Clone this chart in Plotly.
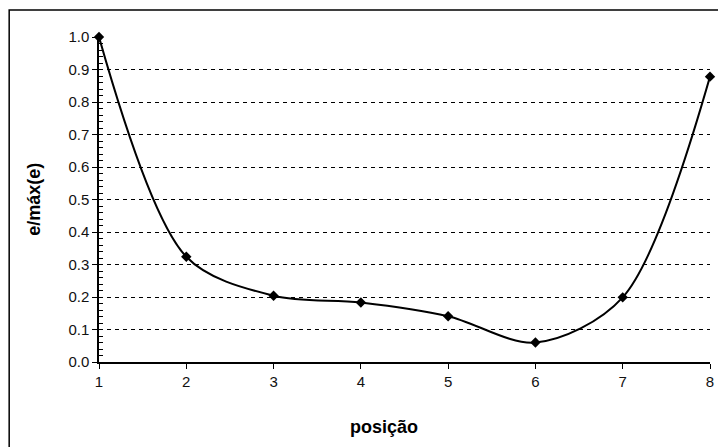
import plotly.graph_objects as go

posicao = [1, 2, 3, 4, 5, 6, 7, 8]
e_rel = [1.0, 0.324, 0.204, 0.183, 0.141, 0.060, 0.199, 0.878]
y_ticks = [0.0, 0.1, 0.2, 0.3, 0.4, 0.5, 0.6, 0.7, 0.8, 0.9, 1.0]

fig = go.Figure()
fig.add_trace(go.Scatter(
    x=posicao, y=e_rel, mode="lines+markers",
    line=dict(color="black", width=2, shape="spline", smoothing=0.9),
    marker=dict(symbol="diamond", size=8, color="black"),
    showlegend=False, cliponaxis=False,
))

fig.update_layout(
    width=718, height=439,
    margin=dict(l=91, r=13, t=29, b=85),
    paper_bgcolor="white", plot_bgcolor="white",
    font=dict(family="Liberation Sans, Arial, sans-serif", size=15, color="#111"),
    xaxis=dict(
        range=[1, 8], tickvals=posicao, showgrid=False, zeroline=False,
        showline=True, linecolor="black", linewidth=1.5,
        ticks="outside", ticklen=5, tickcolor="black",
    ),
    yaxis=dict(
        range=[0, 1.0], tickvals=y_ticks, tickformat=".1f",
        showgrid=True, gridcolor="black", griddash="4px,4px", gridwidth=1,
        zeroline=False, showline=True, linecolor="black", linewidth=1.5,
        ticks="outside", ticklen=5, tickcolor="black",
        minor=dict(dtick=0.02, ticks="inside", ticklen=4, tickcolor="black", showgrid=False),
    ),
    annotations=[
        dict(text="<b>posição</b>", xref="paper", yref="paper", x=0.466, y=-0.2,
             xanchor="center", yanchor="middle", showarrow=False,
             font=dict(size=18, color="black")),
        dict(text="<b>e/máx(e)</b>", xref="paper", yref="paper", x=-0.1075, y=0.5,
             xanchor="center", yanchor="middle", showarrow=False, textangle=-90,
             font=dict(size=18, color="black")),
    ],
    shapes=[dict(type="rect", xref="paper", yref="paper",
                 x0=-0.147, x1=1.2, y0=-0.5, y1=1.083,
                 line=dict(color="black", width=1.5), layer="below")],
)
fig.write_html("out.html")
